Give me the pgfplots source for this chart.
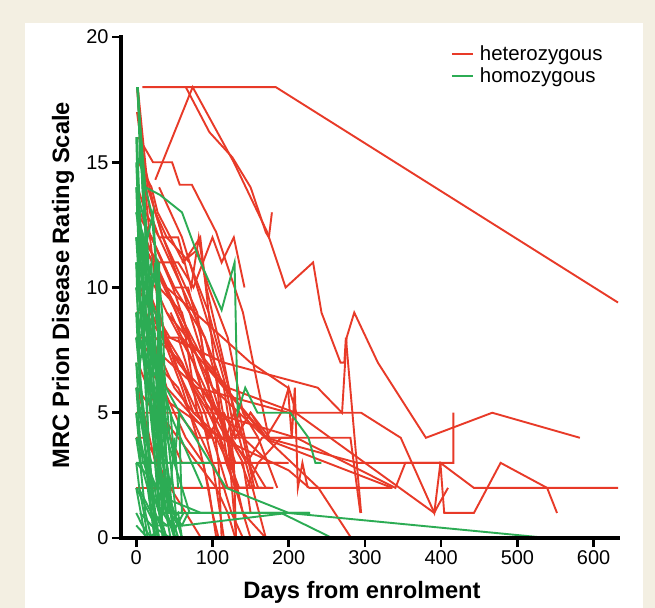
\documentclass[border=0pt]{standalone}
\usepackage{fontspec}
\setmainfont{Liberation Sans}
\usepackage{pgfplots}
\pgfplotsset{compat=1.18}
\definecolor{het}{RGB}{232,58,40}
\definecolor{hom}{RGB}{44,172,84}
\definecolor{frame}{RGB}{243,239,226}
\begin{document}
\begin{tikzpicture}
\fill[frame] (0bp,0bp) rectangle (655bp,608bp);
\fill[white] (25bp,0bp) rectangle (643bp,585bp);
\path[use as bounding box] (0bp,0bp) rectangle (655bp,608bp);
\begin{axis}[
  at={(121bp,70bp)}, anchor=south west,
  scale only axis, width=497bp, height=501bp,
  xmin=-20, xmax=632, ymin=0, ymax=20,
  clip=false,
  axis x line*=bottom, axis y line*=left,
  axis line style={-, black, line width=3.2bp},
  xtick={0,100,...,600}, ytick={0,5,10,15,20},
  tick align=outside, major tick length=9bp,
  xtick style={line width=2.6bp, black}, ytick style={line width=2.6bp, black},
  /pgf/number format/assume math mode=true,
  ticklabel style={font=\fontsize{20}{21}\selectfont},
  xlabel={Days from enrolment}, ylabel={MRC Prion Disease Rating Scale},
  every axis x label/.style={at={(axis description cs:0.485,0)}, yshift=-60bp, anchor=base,
    font=\fontsize{23.8}{25}\selectfont\bfseries},
  every axis y label/.style={at={(axis description cs:0,0.505)}, xshift=-52bp, rotate=90, anchor=base,
    font=\fontsize{23.8}{25}\selectfont\bfseries},
  legend style={draw=none, fill=none, at={(0.657,0.99)}, anchor=north west,
    font=\fontsize{20.5}{21}\selectfont, row sep=1bp,
    nodes={inner xsep=6bp}},
  legend cell align=left,
  legend image code/.code={\draw[#1, line width=2.2bp] (0bp,0bp) -- (21bp,0bp);},
  R/.style={color=het, line width=1.9bp, forget plot},
  G/.style={color=hom, line width=1.9bp, forget plot},
  after end axis/.code={
    \draw[black, line width=3.2bp, line cap=rect] (axis cs:-20,20) -- (axis cs:-20,0) -- (axis cs:632,0);
  },
]
% heterozygous
\addplot[color=het, line width=1.9bp] coordinates {(8,18) (183,18) (632,9.4)};
\addlegendentry{heterozygous}
\addplot[R] coordinates {(25,14.3) (74,18) (128,15) (172,12.2) (196,10) (232,11) (243,9) (268,7) (273,7) (275,8) (295,1)};
\addplot[R] coordinates {(65,18) (96,16.2) (126,15.2) (150,14) (170,12.2) (174,12) (178,13)};
\addplot[R] coordinates {(5,10) (44,8) (115,7) (238,6) (270,5) (276,8) (286,9) (317,7) (380,4) (467,5) (582,4)};
\addplot[R] coordinates {(8,8) (80,6) (200,5) (270,5) (295,5) (347,4) (391,1) (399,3) (443,2) (632,2)};
\addplot[R] coordinates {(12,9) (100,5) (210,4) (340,2) (353,3) (416,3) (416,5)};
\addplot[R] coordinates {(40,9) (120,6) (209,5) (391,1) (396,1.3) (409,2)};
\addplot[R] coordinates {(60,8) (170,4) (290,3) (399,3) (404,1) (443,1) (478,3) (539,2) (552,1)};
\addplot[R] coordinates {(3,16) (22,15) (47,15) (57,14.1) (73,14.1) (105,12.2) (140,9) (160,6) (174,4) (281,4) (294,1)};
\addplot[R] coordinates {(5,12) (90,7) (174,3.9) (336,2)};
\addplot[R] coordinates {(15,6) (110,4) (200,2.7) (227,2) (336,2)};
\addplot[R] coordinates {(5,12) (100,6) (239,2) (282,0)};
\addplot[R] coordinates {(40,10) (150,7) (199,6) (204,4) (208,6) (212,2) (218,3) (225,2)};
\addplot[R] coordinates {(2,18) (15,14) (35,12) (60,10) (90,7) (120,4) (150,3)};
\addplot[R] coordinates {(1,17) (10,15) (25,13) (40,12) (70,11) (95,9) (130,5) (140,4)};
\addplot[R] coordinates {(3,15) (20,14) (28,13) (45,12) (62,11) (84,12) (95,9) (110,5) (120,3) (150,0)};
\addplot[R] coordinates {(2,14) (12,13) (30,12) (55,12) (72,10) (82,12) (92,10) (115,7) (135,4) (170,0)};
\addplot[R] coordinates {(5,12) (30,11) (55,11) (75,10) (100,12) (112,11) (128,12) (142,10)};
\addplot[R] coordinates {(1,13) (20,12) (48,10) (70,8) (95,6) (118,4) (128,3) (131,0)};
\addplot[R] coordinates {(2,11) (25,10) (40,9) (75,7) (105,5) (140,3) (150,1)};
\addplot[R] coordinates {(0,9) (8,9) (25,8) (60,7) (90,5) (110,3) (120,2) (150,2)};
\addplot[R] coordinates {(0,8) (20,8) (40,6) (70,5) (100,4) (125,4) (145,3) (165,4) (200,4)};
\addplot[R] coordinates {(0,5) (15,5) (35,5) (45,4) (60,3) (90,3) (110,3) (140,3) (190,3)};
\addplot[R] coordinates {(0,4) (10,4) (20,3.5) (45,2) (70,2) (100,2) (140,2) (165,2)};
\addplot[R] coordinates {(0,2) (30,2) (70,2) (95,2)};
\addplot[R] coordinates {(5,9) (40,8) (75,5) (110,4) (125,4) (130,2) (145,2)};
\addplot[R] coordinates {(3,8) (25,7) (55,6) (85,4) (100,3) (115,2) (125,1) (140,0)};
\addplot[R] coordinates {(10,11) (30,10) (60,9) (85,6) (105,5) (115,5) (130,4) (150,5) (170,4) (190,5) (200,6) (210,5)};
\addplot[R] coordinates {(20,12) (50,10) (90,8) (115,6) (125,4) (135,5) (150,3) (170,2) (180,2)};
\addplot[R] coordinates {(8,15) (18,13) (30,12) (45,11) (60,10) (90,8) (108,6) (125,3) (140,1) (170,0)};
\addplot[R] coordinates {(15,10) (40,8) (60,7) (85,5) (100,3) (110,1) (115,0)};
\addplot[R] coordinates {(2,7) (15,6) (30,5) (55,4) (80,3) (105,2) (120,1) (130,0)};
\addplot[R] coordinates {(1,6) (10,5) (25,3) (45,2) (65,1) (85,0)};
\addplot[R] coordinates {(25,13) (35,12) (50,11) (65,10) (80,9) (100,5) (108,3) (112,0)};
\addplot[R] coordinates {(30,14) (45,13) (60,12) (80,10) (100,8) (118,6) (130,4) (150,5) (175,4)};
\addplot[R] coordinates {(12,12) (25,11) (40,10) (65,8) (80,5) (95,4) (110,5) (130,3) (148,3) (160,2)};
\addplot[R] coordinates {(45,9) (75,7) (95,5) (110,4) (135,2) (145,2) (160,3) (190,4) (205,4)};
\addplot[R] coordinates {(35,8) (60,6) (80,4) (95,2) (105,0)};
\addplot[R] coordinates {(18,9) (55,7) (85,6) (110,5) (140,4) (175,3) (200,3)};
\addplot[R] coordinates {(2,10) (20,9) (35,8) (55,8) (75,6) (95,5) (112,4) (140,4) (155,2) (165,2)};
\addplot[R] coordinates {(5,13) (20,12) (35,11) (50,10) (68,10) (85,8) (100,5) (118,3) (130,2)};
\addplot[R] coordinates {(60,11) (80,11.5) (95,10) (120,8) (140,5) (160,4) (185,2)};
\addplot[R] coordinates {(1,18) (8,15) (18,12) (30,9) (50,7) (80,5) (100,4) (120,4) (131,0)};
\addplot[R] coordinates {(0,6) (25,5) (55,5) (80,4) (105,4) (120,3) (138,3) (150,2) (175,2)};
\addplot[R] coordinates {(10,7) (35,6) (65,4) (88,3) (100,1) (108,0)};
\addplot[R] coordinates {(20,8) (50,6) (75,5) (100,5) (118,4) (128,5) (140,4) (160,4)};
% homozygous
\addplot[color=hom, line width=1.9bp] coordinates {(0,2) (25,0.5) (62,0.5) (199,1) (540,0)};
\addlegendentry{homozygous}
\addplot[G] coordinates {(0,4) (40,1) (62,1) (227,1)};
\addplot[G] coordinates {(0,3) (45,1.5) (85,1) (190,1) (257,0)};
\addplot[G] coordinates {(1,18) (12,14) (31,13.7) (60,13) (83,11.1) (112,9.1) (129,11) (133,5) (143,6) (159,5) (202,5) (226,4) (235,3) (243,3)};
\addplot[G] coordinates {(0,10) (30,6.5) (57,5) (118,2) (200,1) (228,1)};
\addplot[G] coordinates {(0,9) (48,4.7) (87,2)};
\addplot[G] coordinates {(0,7) (18,3) (96,3)};
\addplot[G] coordinates {(2,18) (8,14) (15,11) (25,7) (35,3) (45,1) (55,0)};
\addplot[G] coordinates {(2,18) (10,13) (20,9) (30,5) (40,2) (50,0)};
\addplot[G] coordinates {(1,16) (6,12) (15,8) (22,4) (30,1) (40,0)};
\addplot[G] coordinates {(1,15) (8,11) (18,6) (25,3) (35,0)};
\addplot[G] coordinates {(0,14) (5,10) (12,6) (20,2) (28,0)};
\addplot[G] coordinates {(1,13) (8,10) (18,8) (26,5) (33,2) (45,0)};
\addplot[G] coordinates {(0,12) (6,9) (14,7) (22,6) (30,3) (40,1) (52,0)};
\addplot[G] coordinates {(0,12) (4,11) (10,12) (18,9) (25,11) (32,7) (38,4) (44,1)};
\addplot[G] coordinates {(0,11) (8,8) (15,10) (20,6) (30,4) (40,2) (50,1) (60,0)};
\addplot[G] coordinates {(0,10) (5,8) (12,7) (22,5) (28,3) (36,1)};
\addplot[G] coordinates {(0,9) (3,7) (10,5) (18,3) (25,1) (30,0)};
\addplot[G] coordinates {(0,8) (6,6) (14,4) (20,2) (28,0)};
\addplot[G] coordinates {(0,7) (4,5) (10,4) (17,2) (25,1) (38,0)};
\addplot[G] coordinates {(0,6) (5,4) (12,3) (20,1) (30,0)};
\addplot[G] coordinates {(0,5) (6,3) (15,2) (24,0)};
\addplot[G] coordinates {(0,4) (5,3) (12,1) (20,0)};
\addplot[G] coordinates {(0,3) (4,2) (10,1) (15,0)};
\addplot[G] coordinates {(0,2) (6,1) (12,0)};
\addplot[G] coordinates {(0,1) (8,0.5) (20,0)};
\addplot[G] coordinates {(2,18) (5,15) (12,14) (20,13) (26,11) (30,6) (35,3) (42,1)};
\addplot[G] coordinates {(0,16) (3,13) (8,12) (14,10) (25,9) (30,8) (34,5) (40,3) (45,2) (50,4) (55,2)};
\addplot[G] coordinates {(0,13) (10,12) (20,10) (28,11) (34,9) (38,6) (44,4) (52,3)};
\addplot[G] coordinates {(0,10) (8,9) (15,8) (25,7) (32,5) (40,3) (48,1) (60,0.5) (68,1)};
\addplot[G] coordinates {(0,9) (10,7) (18,6) (26,6) (32,4) (40,3) (50,3)};
\addplot[G] coordinates {(0,8) (5,7) (10,8) (15,6) (22,4) (30,3) (38,2) (50,1) (60,1)};
\addplot[G] coordinates {(0,6) (6,5) (12,4) (20,3) (28,3) (36,2) (45,1) (55,0.5)};
\addplot[G] coordinates {(0,5) (4,4) (9,3) (16,3) (24,2) (30,1) (40,1) (50,0)};
\addplot[G] coordinates {(0,3) (10,3) (20,2) (30,1) (45,1) (55,0)};
\addplot[G] coordinates {(2,18) (6,16) (10,14) (14,12) (18,10) (25,8) (28,5) (32,2) (35,0)};
\addplot[G] coordinates {(0,15) (4,12) (8,10) (12,7) (16,4) (20,2) (25,0)};
\addplot[G] coordinates {(0,11) (2,9) (6,6) (10,4) (15,3) (20,1) (25,0)};
\addplot[G] coordinates {(0,12) (28,10) (30,11) (32,3) (34,1)};
\addplot[G] coordinates {(0,4) (15,3) (28,3) (30,1) (35,0)};
\addplot[G] coordinates {(5,1) (20,0.5) (35,1) (50,0.3) (62,1)};
\addplot[G] coordinates {(0,0.5) (15,0) (30,0.3) (45,0)};
\addplot[G] coordinates {(0,14) (8,13) (15,12) (22,13) (28,10) (32,8) (38,5) (45,3) (52,1)};
\addplot[G] coordinates {(0,11) (12,10) (20,11) (24,4) (30,9) (36,5) (42,2) (50,0)};
\addplot[G] coordinates {(0,8) (15,7) (35,6) (45,5) (50,3) (56,5) (60,1)};
\addplot[G] coordinates {(3,2) (20,1) (40,0.5) (55,1) (60,0)};
\addplot[G] coordinates {(0,13) (10,11) (20,8) (40,4) (60,2) (70,1)};
\end{axis}
\end{tikzpicture}
\end{document}
